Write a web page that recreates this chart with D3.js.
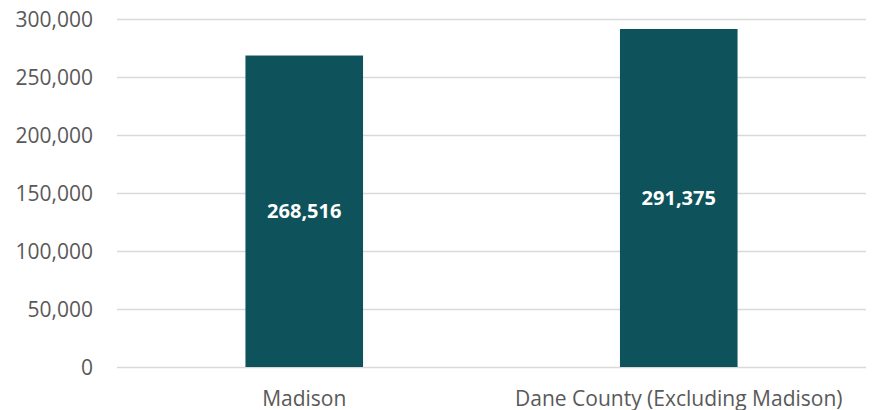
<!DOCTYPE html>
<html>
<head>
<meta charset="utf-8">
<script src="https://cdn.jsdelivr.net/npm/d3@7"></script>
<style>
  body { margin: 0; background: #fff; }
  svg { display: block; font-family: "Open Sans", "Noto Sans", sans-serif; }
  .tick-label { fill: #595959; font-size: 21px; }
  .cat-label { fill: #595959; font-size: 21px; }
  .value-label { fill: #fff; font-size: 20px; font-weight: bold; }
</style>
</head>
<body>
<div id="vis"></div>
<script>
// chart data
var categories = ['Madison', 'Dane County (Excluding Madison)'];
var populations = [268516, 291375];
var yTicks = [0, 50000, 100000, 150000, 200000, 250000, 300000];

var width = 872;
var height = 410;
var margin = { top: 19, right: 6, bottom: 43, left: 117 };
var drawWidth = width - margin.left - margin.right;
var drawHeight = height - margin.top - margin.bottom;

var svg = d3.select('#vis')
            .append('svg')
            .attr('width', width)
            .attr('height', height);

var g = svg.append('g')
           .attr('transform', 'translate(' + margin.left + ',' + margin.top + ')');

var xScale = d3.scaleBand()
               .domain(categories)
               .range([0, drawWidth])
               .paddingInner(0.686)
               .paddingOuter(0.343);

var yScale = d3.scaleLinear()
               .domain([0, 300000])
               .range([drawHeight, 0]);

var fmt = d3.format(',');

// gridlines + y labels
var yAxis = d3.axisLeft(yScale)
              .tickValues(yTicks)
              .tickSize(-drawWidth)
              .tickPadding(24)
              .tickFormat(fmt);

var yAxisG = g.append('g').call(yAxis);
yAxisG.select('.domain').remove();
yAxisG.selectAll('.tick line')
      .attr('stroke', '#d9d9d9')
      .attr('stroke-width', 1.3);
yAxisG.selectAll('.tick text')
      .attr('class', 'tick-label')
      .attr('fill', null)
      .attr('dy', '0.36em');
yAxisG.attr('font-size', null).attr('font-family', null);

// bars
var data = categories.map(function(c, i) { return { cat: c, value: populations[i] }; });

g.selectAll('.bar')
 .data(data)
 .enter()
 .append('rect')
 .attr('class', 'bar')
 .attr('x', function(d) { return xScale(d.cat); })
 .attr('y', function(d) { return yScale(d.value); })
 .attr('width', xScale.bandwidth())
 .attr('height', function(d) { return drawHeight - yScale(d.value); })
 .attr('fill', '#0e525b');

// value labels in the middle of each bar
g.selectAll('.value-label')
 .data(data)
 .enter()
 .append('text')
 .attr('class', 'value-label')
 .attr('x', function(d) { return xScale(d.cat) + xScale.bandwidth() / 2; })
 .attr('y', function(d) { return (yScale(d.value) + drawHeight) / 2; })
 .attr('dy', '0.36em')
 .attr('text-anchor', 'middle')
 .text(function(d) { return fmt(d.value); });

// category labels (cut at the bottom edge, as in the original)
var xAxis = d3.axisBottom(xScale).tickSize(0).tickPadding(0);
var xAxisG = g.append('g')
              .attr('transform', 'translate(0,' + drawHeight + ')')
              .call(xAxis);
xAxisG.select('.domain').remove();
xAxisG.attr('font-size', null).attr('font-family', null);
xAxisG.selectAll('.tick text')
      .attr('class', 'cat-label')
      .attr('fill', null)
      .attr('dy', null)
      .attr('y', 39);
</script>
</body>
</html>
